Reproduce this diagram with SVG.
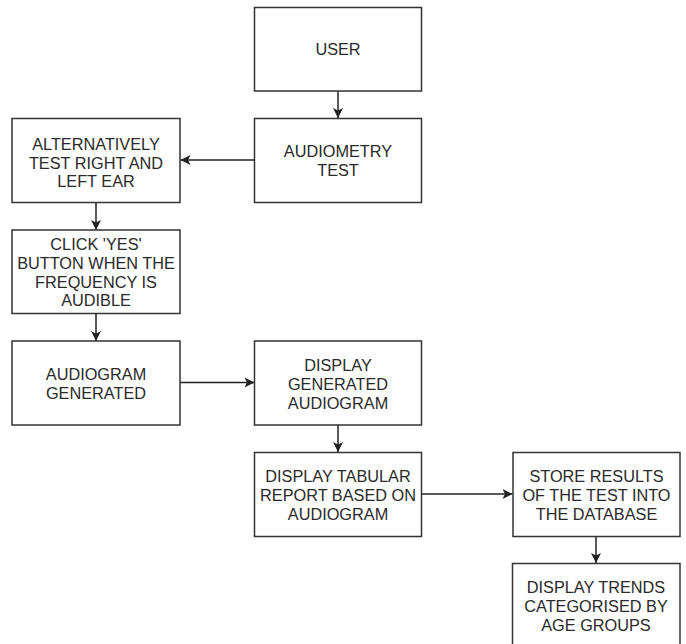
<svg xmlns="http://www.w3.org/2000/svg" width="686" height="644" viewBox="0 0 686 644">
<defs>
<marker id="ah" viewBox="0 0 10 10" refX="10" refY="5" markerWidth="10" markerHeight="10" markerUnits="userSpaceOnUse" orient="auto">
<path d="M0,0 L10,5 L0,10 L2.5,5 Z" fill="#222"/>
</marker>
<style>
.box{fill:#fff;stroke:#333;stroke-width:1.5}
.lbl{font-family:"Liberation Sans",Arial,sans-serif;font-size:16.3px;fill:#2a2a2a;text-anchor:middle}
.con{stroke:#222;stroke-width:1.5;fill:none;marker-end:url(#ah)}
</style>
</defs>
<rect width="686" height="644" fill="#fff"/>
<g id="connectors">
<line class="con" x1="338" y1="91" x2="338" y2="118"/>
<line class="con" x1="254.5" y1="160" x2="180.5" y2="160"/>
<line class="con" x1="96" y1="202" x2="96" y2="230"/>
<line class="con" x1="96" y1="313" x2="96" y2="341"/>
<line class="con" x1="180" y1="382.5" x2="254.5" y2="382.5"/>
<line class="con" x1="338" y1="425" x2="338" y2="452"/>
<line class="con" x1="421.5" y1="494" x2="512.5" y2="494"/>
<line class="con" x1="596" y1="536.5" x2="596" y2="563"/>
</g>
<g id="user">
<rect class="box" x="254.5" y="7.5" width="167" height="83.5"/>
<text class="lbl" x="338" y="55">USER</text>
</g>
<g id="audiometry">
<rect class="box" x="254.5" y="118.5" width="167" height="84"/>
<text class="lbl" x="338" y="157">AUDIOMETRY<tspan x="338" dy="18.8">TEST</tspan></text>
</g>
<g id="alternatively">
<rect class="box" x="12" y="118.5" width="168" height="84"/>
<text class="lbl" x="96" y="150">ALTERNATIVELY<tspan x="96" dy="18.6">TEST RIGHT AND</tspan><tspan x="96" dy="18.6">LEFT EAR</tspan></text>
</g>
<g id="click">
<rect class="box" x="12" y="230" width="168" height="83.5"/>
<text class="lbl" x="96" y="250">CLICK 'YES'<tspan x="96" dy="18.8">BUTTON WHEN THE</tspan><tspan x="96" dy="18.8">FREQUENCY IS</tspan><tspan x="96" dy="18.8">AUDIBLE</tspan></text>
</g>
<g id="audiogram">
<rect class="box" x="12" y="341" width="168" height="84"/>
<text class="lbl" x="96" y="380">AUDIOGRAM<tspan x="96" dy="18.8">GENERATED</tspan></text>
</g>
<g id="displaygen">
<rect class="box" x="254.5" y="341" width="167" height="84"/>
<text class="lbl" x="338" y="371">DISPLAY<tspan x="338" dy="18.8">GENERATED</tspan><tspan x="338" dy="18.8">AUDIOGRAM</tspan></text>
</g>
<g id="tabular">
<rect class="box" x="254.5" y="452.5" width="167" height="84"/>
<text class="lbl" x="338" y="482">DISPLAY TABULAR<tspan x="338" dy="18.8">REPORT BASED ON</tspan><tspan x="338" dy="18.8">AUDIOGRAM</tspan></text>
</g>
<g id="store">
<rect class="box" x="513" y="452.5" width="167" height="84"/>
<text class="lbl" x="596.5" y="482">STORE RESULTS<tspan x="596.5" dy="18.8">OF THE TEST INTO</tspan><tspan x="596.5" dy="18.8">THE DATABASE</tspan></text>
</g>
<g id="trends">
<rect class="box" x="512.5" y="563.5" width="167.5" height="84"/>
<text class="lbl" x="596" y="593">DISPLAY TRENDS<tspan x="596" dy="18.8">CATEGORISED BY</tspan><tspan x="596" dy="18.8">AGE GROUPS</tspan></text>
</g>
</svg>
